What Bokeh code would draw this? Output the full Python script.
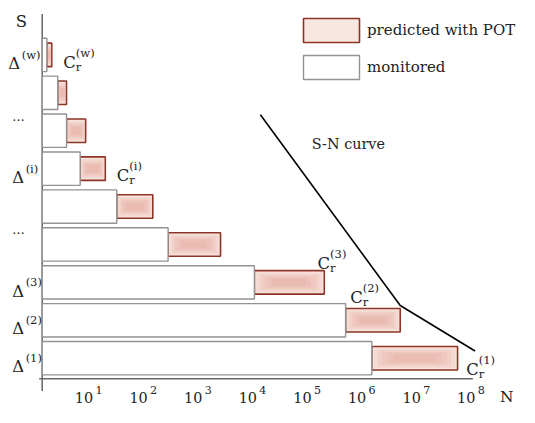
from bokeh.plotting import figure
from bokeh.models import Legend, LegendItem
from bokeh.core.properties import value
from bokeh.embed import file_html
from bokeh.resources import INLINE

# ---------------- data (x = log10 N, y = stress level row) ----------------
rows = [1, 2, 3, 4, 5, 6, 7, 8, 9]
monitored_end = [6.20, 5.72, 4.05, 2.47, 1.53, 0.86, 0.61, 0.45, 0.25]
predicted_end = [7.77, 6.72, 5.33, 3.43, 2.19, 1.32, 0.96, 0.61, 0.34]
axis_origin = 0.165
axis_base = 0.46
axis_x_end = 8.05
axis_y_top = 10.08

sn_logN = [4.16, 6.72, 8.09]
sn_level = [7.42, 2.39, 1.19]

tick_exponents = [1, 2, 3, 4, 5, 6, 7, 8]
tick_base = ["10"] * 8
tick_sup = ["1", "2", "3", "4", "5", "6", "7", "8"]

delta_rows = [9, 6, 3, 2, 1]
delta_sup = ["(w)", "(i)", "(3)", "(2)", "(1)"]
dots_rows = [7.37, 4.40]
cr_rows = [9, 6, 3, 2, 1]
cr_sup = ["(w)", "(i)", "(3)", "(2)", "(1)"]

# ---------------- layout / style ----------------
K = 0.962                      # page scale (figure fits inside the 8px page margin)
FONT = value("DejaVu Serif")
TXT = "#222222"
RED = "#8c3526"
GREY = "#939393"
MON_H = 0.44
PRED_H = 0.31
LABEL_Y = -0.037

def fs(px):
    return f"{px * K:.1f}px"

cr_dx = [12, 12, -7, -52, 9]        # px offset of C label from predicted end
cr_dy = [8, 7, -19.5, -24, 11.5]    # px offset of C baseline from row centre
delta_x = [-0.456, -0.385, -0.385, -0.385, -0.385]

p = figure(width=519, height=407, x_range=(-0.5986, 8.904), y_range=(-0.30, 10.435),
           min_border=0, x_axis_location=None, y_axis_location=None,
           toolbar_location=None, output_backend="svg")
p.grid.visible = False
p.outline_line_color = None
p.background_fill_color = "white"

# axes lines
p.segment(x0=[axis_origin], y0=[0.133], x1=[axis_origin], y1=[axis_y_top],
          line_color="#666666", line_width=1.5)
p.segment(x0=[0.11], y0=[axis_base], x1=[axis_x_end], y1=[axis_base],
          line_color="#666666", line_width=1.5)

# tick labels
p.text(x=tick_exponents, y=[LABEL_Y] * 8, text=tick_base, text_font=FONT,
       text_font_size=fs(15), text_color=TXT, text_align="center",
       text_baseline="alphabetic", x_offset=-4 * K)
p.text(x=tick_exponents, y=[LABEL_Y] * 8, text=tick_sup, text_font=FONT,
       text_font_size=fs(11.5), text_color=TXT, text_align="left",
       text_baseline="alphabetic", x_offset=8 * K, y_offset=-7.5 * K)
p.text(x=[8.67], y=[LABEL_Y], text=["N"], text_font=FONT, text_font_size=fs(16),
       text_color=TXT, text_align="center", text_baseline="alphabetic", y_offset=-1)

# predicted bars
pred_r = p.quad(left=monitored_end, right=predicted_end,
                bottom=[r - PRED_H for r in rows], top=[r + PRED_H for r in rows],
                fill_color="#f8e6e0", line_color=RED, line_width=1.6)
w = [(pe - me) for me, pe in zip(monitored_end, predicted_end)]
c = [(pe + me) / 2 for me, pe in zip(monitored_end, predicted_end)]
for fw, fh in [(0.95, 0.85), (0.85, 0.7), (0.75, 0.55), (0.62, 0.42), (0.48, 0.3)]:
    p.quad(left=[ci - wi * fw / 2 for ci, wi in zip(c, w)],
           right=[ci + wi * fw / 2 for ci, wi in zip(c, w)],
           bottom=[r - PRED_H * fh for r in rows], top=[r + PRED_H * fh for r in rows],
           fill_color="#e3a392", fill_alpha=0.17, line_color=None)

# monitored bars
mon_r = p.quad(left=[axis_origin] * len(rows), right=monitored_end,
               bottom=[r - MON_H for r in rows], top=[r + MON_H for r in rows],
               fill_color="white", line_color=GREY, line_width=1.4)

# S-N curve
p.line(sn_logN, sn_level, line_color="black", line_width=1.6)
p.text(x=[5.1], y=[6.64], text=["S-N curve"], text_font=FONT, text_font_size=fs(15),
       text_color=TXT, text_baseline="middle", text_align="left")

# axis name S
p.text(x=[-0.216], y=[9.87], text=["S"], text_font=FONT, text_font_size=fs(17),
       text_color=TXT, text_baseline="middle", text_align="center")

# Delta labels
p.text(x=delta_x, y=delta_rows, text=["Δ"] * len(delta_rows), text_font=FONT,
       text_font_size=fs(17), text_color=TXT, text_baseline="alphabetic",
       text_align="left", y_offset=9 * K)
p.text(x=delta_x, y=delta_rows, text=delta_sup, text_font=FONT,
       text_font_size=fs(12), text_color=TXT, text_baseline="alphabetic",
       text_align="left", x_offset=14 * K, y_offset=0)
p.text(x=[-0.385] * len(dots_rows), y=dots_rows, text=["…"] * len(dots_rows),
       text_font=FONT, text_font_size=fs(13), text_color=TXT,
       text_baseline="middle", text_align="left")

# C_r labels
cr_x = [predicted_end[rows.index(r)] for r in cr_rows]
p.text(x=cr_x, y=cr_rows, text=["C"] * len(cr_rows), text_font=FONT,
       text_font_size=fs(17), text_color=TXT, text_baseline="alphabetic",
       text_align="left", x_offset=[d * K for d in cr_dx],
       y_offset=[d * K for d in cr_dy])
p.text(x=cr_x, y=cr_rows, text=["r"] * len(cr_rows), text_font=FONT,
       text_font_size=fs(12), text_color=TXT, text_baseline="alphabetic",
       text_align="left", x_offset=[(d + 13) * K for d in cr_dx],
       y_offset=[(d + 5) * K for d in cr_dy])
p.text(x=cr_x, y=cr_rows, text=cr_sup, text_font=FONT,
       text_font_size=fs(12), text_color=TXT, text_baseline="alphabetic",
       text_align="left", x_offset=[(d + 13) * K for d in cr_dx],
       y_offset=[(d - 10) * K for d in cr_dy])

# legend
legend = Legend(items=[LegendItem(label="predicted with POT", renderers=[pred_r]),
                       LegendItem(label="monitored", renderers=[mon_r])],
                location=(296, 325), glyph_width=70, glyph_height=30, spacing=7,
                padding=0, margin=0, label_standoff=1, border_line_color=None,
                background_fill_alpha=0, label_text_font="DejaVu Serif",
                label_text_font_size="15px", label_text_color=TXT)
p.add_layout(legend)

open("out.html", "w").write(file_html(p, INLINE))
